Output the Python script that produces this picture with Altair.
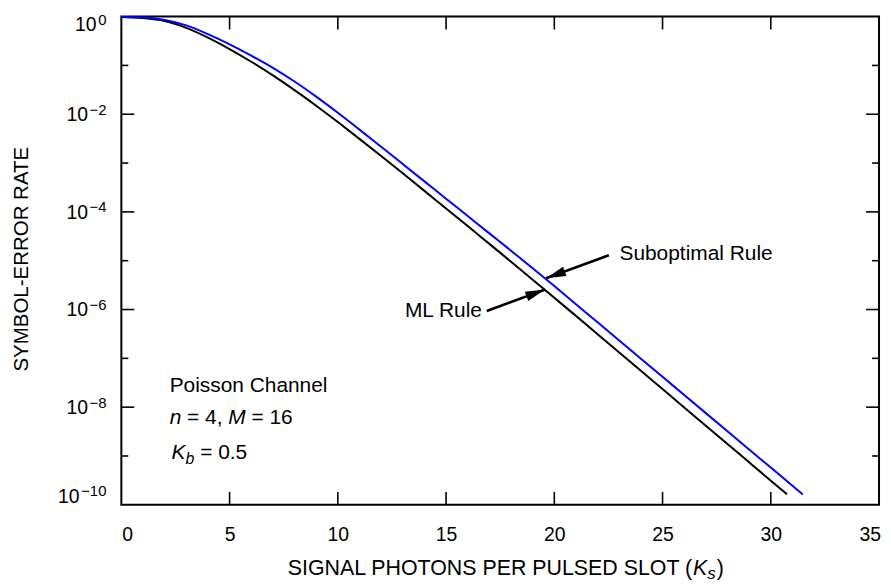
import math
import altair as alt
import pandas as pd

FONT = "Liberation Sans"
W, H = 762, 491

# ---- data (log10 of symbol-error rate) ----
ks_ml = [0, 1, 2, 3, 4, 5, 6, 7, 8, 9, 10, 11, 12, 13, 14, 15, 16, 17, 18, 19, 20,
         21, 22, 23, 24, 25, 26, 27, 28, 29, 30, 30.75]
log_ml = [-0.01, -0.03, -0.09, -0.23, -0.43, -0.665, -0.925, -1.205, -1.505, -1.825, -2.16,
          -2.505, -2.855, -3.21, -3.57, -3.93, -4.29, -4.655, -5.02, -5.39, -5.76,
          -6.13, -6.505, -6.88, -7.255, -7.63, -8.005, -8.38, -8.755, -9.13, -9.505, -9.786]

ks_sub = [0, 1, 2, 3, 4, 5, 6, 7, 8, 9, 10, 11, 12, 13, 14, 15, 16, 17, 18, 19, 20,
          21, 22, 23, 24, 25, 26, 27, 28, 29, 30, 31, 31.48]
log_sub = [-0.01, -0.02, -0.07, -0.18, -0.36, -0.57, -0.80, -1.05, -1.33, -1.64, -1.97,
           -2.315, -2.665, -3.02, -3.375, -3.73, -4.085, -4.44, -4.795, -5.155, -5.52,
           -5.89, -6.262, -6.634, -7.006, -7.378, -7.75, -8.122, -8.494, -8.866, -9.238,
           -9.61, -9.79]

series_names = ["ML Rule", "Suboptimal Rule"]
series_colors = ["#000000", "#0000ff"]

x_tick_values = [0, 5, 10, 15, 20, 25, 30, 35]
x_inner_ticks = [5, 10, 15, 20, 25, 30]
y_major_exps = [-2, -4, -6, -8]
y_minor_exps = [-1, -3, -5, -7, -9]
y_label_exps = [0, -2, -4, -6, -8, -10]

# annotation arrows: tail (x, log10 y) -> head (x, log10 y)
arrow_labels = ["Suboptimal Rule", "ML Rule"]
arrow_tail_x = [22.52, 16.88]
arrow_tail_log = [-4.89, -6.03]
arrow_head_x = [19.62, 19.58]
arrow_head_log = [-5.36, -5.59]
label_x = [23.01, 13.10]
label_log = [-4.99, -6.145]

# ---- frames ----
df_lines = pd.DataFrame(
    {"ks": ks_ml + ks_sub,
     "ser": [10.0 ** v for v in log_ml] + [10.0 ** v for v in log_sub],
     "rule": [series_names[0]] * len(ks_ml) + [series_names[1]] * len(ks_sub)}
)

xs = alt.Scale(domain=[0, 35], nice=False, zero=False)
ys = alt.Scale(type="log", domain=[1e-10, 1], nice=False)


def X(f):
    return alt.X(f, type="quantitative", scale=xs, axis=None)


def Y(f):
    return alt.Y(f, type="quantitative", scale=ys, axis=None)


layers = []

lines = alt.Chart(df_lines).mark_line(strokeWidth=2, interpolate="monotone").encode(
    x=X("ks"),
    y=Y("ser"),
    color=alt.Color("rule:N", scale=alt.Scale(domain=series_names, range=series_colors),
                    legend=None),
)
layers.append(lines)

# ---- inward ticks ----
dxt = pd.DataFrame({"v": x_inner_ticks})
tick_style = dict(color="black", strokeWidth=1.6)
layers.append(alt.Chart(dxt).mark_rule(**tick_style).encode(
    x=X("v"), y=alt.value(H), y2=alt.value(H - 13)))
layers.append(alt.Chart(dxt).mark_rule(**tick_style).encode(
    x=X("v"), y=alt.value(0), y2=alt.value(13)))

dmaj = pd.DataFrame({"t": [10.0 ** e for e in y_major_exps]})
dmin = pd.DataFrame({"t": [10.0 ** e for e in y_minor_exps]})
for d, ln in ((dmaj, 13), (dmin, 7)):
    layers.append(alt.Chart(d).mark_rule(**tick_style).encode(
        y=Y("t"), x=alt.value(0), x2=alt.value(ln)))
    layers.append(alt.Chart(d).mark_rule(**tick_style).encode(
        y=Y("t"), x=alt.value(W), x2=alt.value(W - ln)))

# ---- x tick labels ----
for i, v in enumerate(x_tick_values):
    if i == 0:
        al, ddx = "left", 1
    elif i == len(x_tick_values) - 1:
        al, ddx = "right", 2
    else:
        al, ddx = "center", 0.5
    d = pd.DataFrame({"v": [v]})
    layers.append(alt.Chart(d).mark_text(
        align=al, baseline="alphabetic", font=FONT, fontSize=19.5, dx=ddx,
        color="black").encode(
        x=X("v"), y=alt.value(H + 36), text=alt.value(str(v))))

# ---- y tick labels 10^e ----
for e in y_label_exps:
    exp_txt = str(e).replace("-", "\u2212")
    w = sum(0.584 if c == "\u2212" else 0.556 for c in exp_txt) * 15 + 1.5
    shift = 7.5 if e == 0 else (-9 if e == -10 else 0)
    d = pd.DataFrame({"t": [10.0 ** e]})
    layers.append(alt.Chart(d).mark_text(
        align="right", baseline="alphabetic", font=FONT, fontSize=19.5,
        dy=7 + shift, color="black").encode(
        x=alt.value(-15 - w), y=Y("t"), text=alt.value("10")))
    layers.append(alt.Chart(d).mark_text(
        align="right", baseline="alphabetic", font=FONT, fontSize=15,
        dy=0.5 + shift, color="black").encode(
        x=alt.value(-15), y=Y("t"), text=alt.value(exp_txt)))

# ---- arrows ----
px_x = W / 35.0
px_dec = H / 10.0
angles = []
for tx, tl, hx, hl in zip(arrow_tail_x, arrow_tail_log, arrow_head_x, arrow_head_log):
    dxp = (hx - tx) * px_x
    dyp = -(hl - tl) * px_dec
    angles.append(math.degrees(math.atan2(dxp, -dyp)) % 360)

df_arr = pd.DataFrame({
    "label": arrow_labels,
    "tx": arrow_tail_x, "ty": [10.0 ** v for v in arrow_tail_log],
    "hx": arrow_head_x, "hy": [10.0 ** v for v in arrow_head_log],
    "lx": label_x, "ly": [10.0 ** v for v in label_log],
    "ang": angles,
})
layers.append(alt.Chart(df_arr).mark_rule(color="black", strokeWidth=2.6).encode(
    x=X("tx"), y=Y("ty"), x2="hx", y2="hy"))
layers.append(alt.Chart(df_arr).mark_point(
    shape="M0,0L-0.5,2L0.5,2Z", filled=True, size=400, color="black",
    opacity=1, strokeWidth=0).encode(
    x=X("hx"), y=Y("hy"), angle=alt.Angle("ang:Q", scale=None)))
layers.append(alt.Chart(df_arr).mark_text(
    align="left", baseline="alphabetic", font=FONT, fontSize=21, color="black").encode(
    x=X("lx"), y=Y("ly"), text="label:N"))

# ---- parameter block ----
blk_x = 2.23
blk_logs = [-7.698, -8.350, -9.063]
SP = 0.278 * 21


def piece(txt, xv, lv, dx=0, dy=0, size=21, italic=False):
    d = pd.DataFrame({"x": [xv], "y": [10.0 ** lv]})
    return alt.Chart(d).mark_text(
        align="left", baseline="alphabetic", font=FONT, fontSize=size,
        fontStyle="italic" if italic else "normal", dx=dx, dy=dy, color="black").encode(
        x=X("x"), y=Y("y"), text=alt.value(txt))


n_w = 0.556 * 21
eq4_w = (0.584 + 0.278 + 0.556 + 0.278) * 21   # "= 4,"
m_x = n_w + SP + eq4_w + SP
m_w = 0.833 * 21
layers.append(piece("Poisson Channel", blk_x, blk_logs[0]))
layers.append(piece("n", blk_x, blk_logs[1], italic=True))
layers.append(piece("= 4,", blk_x, blk_logs[1], dx=n_w + SP))
layers.append(piece("M", blk_x, blk_logs[1], dx=m_x, italic=True))
layers.append(piece("= 16", blk_x, blk_logs[1], dx=m_x + m_w + SP))
k_w = 0.667 * 21
b_w = 0.556 * 16
layers.append(piece("K", blk_x, blk_logs[2], dx=2, italic=True))
layers.append(piece("b", blk_x, blk_logs[2], dx=2 + k_w, dy=5, size=16, italic=True))
layers.append(piece("= 0.5", blk_x, blk_logs[2], dx=2 + k_w + b_w + SP))


# ---- axis titles ----
def fixed_text(txt, x, y, size=21, align="left", italic=False, angle=0, baseline="alphabetic"):
    d = pd.DataFrame({"a": [0]})
    kw = dict(align=align, baseline=baseline, font=FONT, fontSize=size,
              fontStyle="italic" if italic else "normal", color="black")
    if angle:
        kw["angle"] = angle
    return alt.Chart(d).mark_text(**kw).encode(
        x=alt.value(x), y=alt.value(y), text=alt.value(txt))


tb = 562
kx = 575
layers.append(fixed_text("SIGNAL PHOTONS PER PULSED SLOT (", kx - 1, tb, size=21.5, align="right"))
layers.append(fixed_text("K", kx, tb, size=21.5, italic=True))
layers.append(fixed_text("s", kx + 0.667 * 21.5, tb + 4, size=17, italic=True))
layers.append(fixed_text(")", kx + 0.667 * 21.5 + 0.5 * 17 + 1, tb, size=21.5))
layers.append(fixed_text("SYMBOL-ERROR RATE", -99.5, 244, size=20.6, align="center",
                         angle=270, baseline="middle"))

chart = alt.layer(*layers).properties(
    width=W, height=H,
    padding={"left": 114, "top": 7, "right": 4, "bottom": 78},
    autosize=alt.AutoSizeParams(type="none"),
    background="white",
).configure_view(stroke="black", strokeWidth=2)

chart.save("out.html", embed_options={"renderer": "svg", "actions": False})
